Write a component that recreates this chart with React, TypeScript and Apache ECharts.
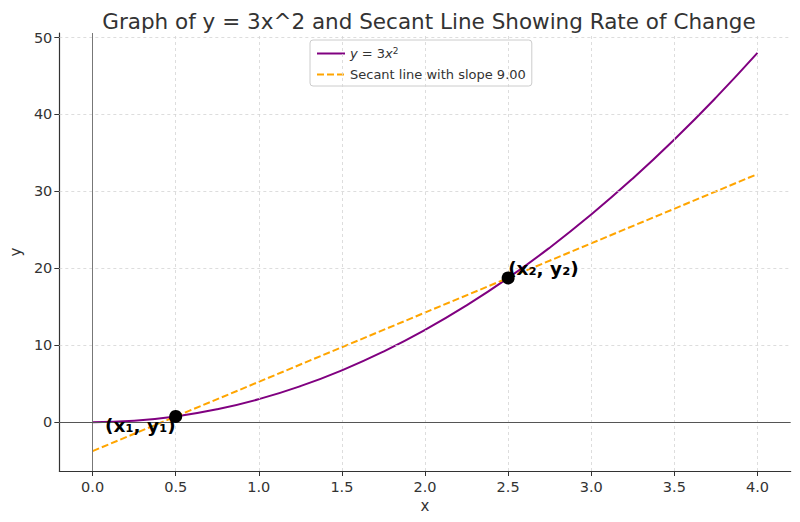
import React, { useEffect, useRef } from "react";
import * as echarts from "echarts";

const curveName = "y = 3x²";
const secantName = "Secant line with slope 9.00";

const curveX = [0, 0.25, 0.5, 0.75, 1, 1.25, 1.5, 1.75, 2, 2.25, 2.5, 2.75, 3, 3.25, 3.5, 3.75, 4];
const curveY = [0, 0.1875, 0.75, 1.6875, 3, 4.6875, 6.75, 9.1875, 12, 15.1875, 18.75, 22.6875, 27, 31.6875, 36.75, 42.1875, 48];

const secantX = [0, 4];
const secantY = [-3.75, 32.25];

const pointX = [0.5, 2.5];
const pointY = [0.75, 18.75];
const pointLabels = ["(x₁, y₁)", "(x₂, y₂)"];

const xTicks = [0, 0.5, 1, 1.5, 2, 2.5, 3, 3.5, 4];
const yTicks = [0, 10, 20, 30, 40, 50];

const FONT = "DejaVu Sans";

export default function App() {
  const ref = useRef<HTMLDivElement>(null);
  useEffect(() => {
    document.body.style.margin = "0";
    if (!ref.current) return;
    const chart = echarts.init(ref.current, null, { renderer: "svg" });
    const gridLineStyle = { color: "#d4d4d4", width: 0.8, type: [3, 3] as any };
    const option: any = {
      animation: false,
      backgroundColor: "#ffffff",
      textStyle: { fontFamily: FONT },
      title: {
        text: "Graph of y = 3x^2 and Secant Line Showing Rate of Change",
        left: 424,
        textAlign: "center",
        top: 5,
        textStyle: { fontFamily: FONT, fontSize: 21.5, fontWeight: "normal", color: "#333333" },
      },
      grid: { left: 55, right: 9.3, top: 33, bottom: 51, containLabel: false },
      legend: {
        data: [curveName, secantName],
        orient: "vertical",
        left: 310,
        top: 40,
        padding: [6, 6, 5, 6],
        itemGap: 8,
        itemWidth: 28,
        itemHeight: 12,
        backgroundColor: "rgba(255,255,255,0.8)",
        borderColor: "#cccccc",
        borderWidth: 1,
        borderRadius: 3,
        selectedMode: false,
        itemStyle: { opacity: 0 },
        formatter: (name: string) =>
          name === curveName ? "{i|y} = 3{i|x}{s|2}" : name,
        textStyle: {
          fontFamily: FONT,
          fontSize: 13,
          color: "#333333",
          rich: {
            i: { fontFamily: FONT, fontSize: 13, fontStyle: "italic", color: "#333333" },
            s: { fontFamily: FONT, fontSize: 9, color: "#333333", verticalAlign: "top", padding: [0, 0, 6, 0] },
          },
        },
      },
      xAxis: {
        type: "value",
        min: -0.2,
        max: 4.2,
        name: "x",
        nameLocation: "middle",
        nameGap: 27,
        nameTextStyle: { fontFamily: FONT, fontSize: 15, color: "#333333" },
        axisLine: { show: true, onZero: false, lineStyle: { color: "#333333", width: 1.2 } },
        axisTick: { show: true, customValues: xTicks, length: 5, lineStyle: { color: "#333333" } },
        axisLabel: {
          customValues: xTicks,
          formatter: (v: number) => v.toFixed(1),
          fontFamily: FONT,
          fontSize: 14.5,
          color: "#333333",
          margin: 8,
        },
        splitLine: { show: false },
      },
      yAxis: {
        type: "value",
        min: -6.3375,
        max: 50.5875,
        name: "y",
        nameLocation: "middle",
        nameGap: 33,
        nameTextStyle: { fontFamily: FONT, fontSize: 15, color: "#333333" },
        axisLine: { show: true, onZero: false, lineStyle: { color: "#333333", width: 1.2 } },
        axisTick: { show: true, customValues: yTicks, length: 5, lineStyle: { color: "#333333" } },
        axisLabel: {
          customValues: yTicks,
          fontFamily: FONT,
          fontSize: 14.5,
          color: "#333333",
          margin: 7,
        },
        splitLine: { show: false },
      },
      series: [
        {
          type: "line",
          name: "grid",
          data: [],
          z: 1,
          silent: true,
          markLine: {
            silent: true,
            symbol: "none",
            label: { show: false },
            animation: false,
            data: [
              ...xTicks.map((v) => ({ xAxis: v, lineStyle: gridLineStyle })),
              ...yTicks.map((v) => ({ yAxis: v, lineStyle: gridLineStyle })),
              { xAxis: 0, lineStyle: { color: "#777777", width: 1, type: "solid" } },
              { yAxis: 0, lineStyle: { color: "#555555", width: 1, type: "solid" } },
            ],
          },
        },
        {
          type: "line",
          name: curveName,
          data: curveX.map((x, i) => [x, curveY[i]]),
          smooth: true,
          symbol: "none",
          z: 3,
          lineStyle: { color: "#800080", width: 2 },
          itemStyle: { color: "#800080" },
        },
        {
          type: "line",
          name: secantName,
          data: secantX.map((x, i) => [x, secantY[i]]),
          symbol: "none",
          z: 4,
          lineStyle: { color: "#ffa500", width: 2, type: [7, 3] },
          itemStyle: { color: "#ffa500" },
        },
        {
          type: "scatter",
          name: "points",
          symbolSize: 13,
          z: 5,
          itemStyle: { color: "#000000", opacity: 1 },
          data: pointX.map((x, i) => ({
            value: [x, pointY[i]],
            label: {
              show: true,
              formatter: pointLabels[i],
              position: "inside",
              align: i === 0 ? "right" : "left",
              verticalAlign: i === 0 ? "top" : "bottom",
              fontFamily: FONT,
              fontSize: 18.5,
              fontWeight: "bold",
              color: "#000000",
            },
          })),
        },
      ],
    };
    chart.setOption(option);
    return () => chart.dispose();
  }, []);
  return <div ref={ref} style={{ width: 800, height: 522 }} />;
}
